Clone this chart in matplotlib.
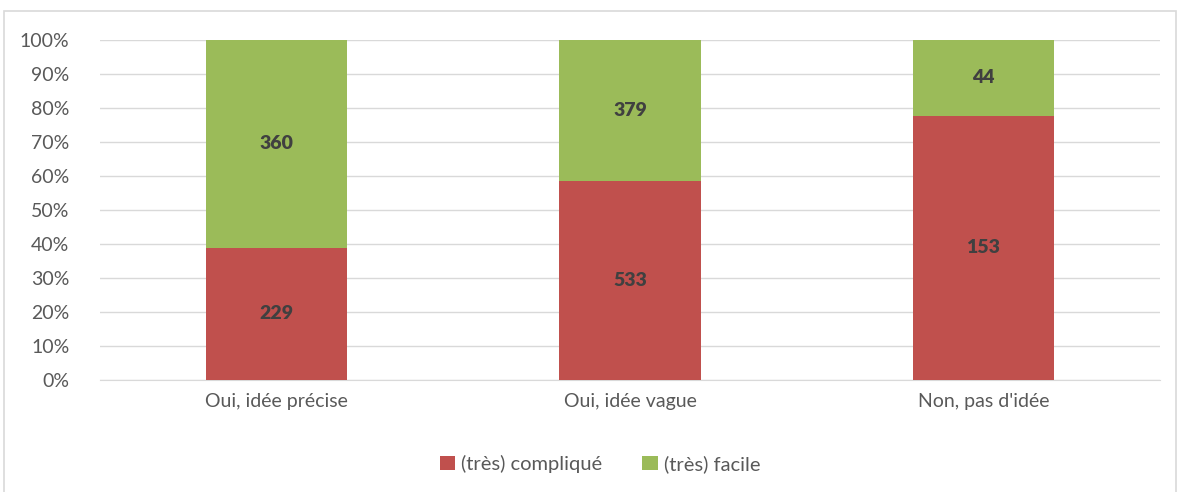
import numpy as np
import matplotlib.pyplot as plt
from matplotlib.patches import Rectangle

categories = ["Oui, idée précise", "Oui, idée vague", "Non, pas d'idée"]
complique = [229, 533, 153]
facile = [360, 379, 44]
series_names = ["(très) compliqué", "(très) facile"]
yticks = [0, 10, 20, 30, 40, 50, 60, 70, 80, 90, 100]

RED = "#C0504D"
GREEN = "#9BBB59"

plt.rcParams['font.family'] = ['Lato', 'DejaVu Sans']

fig = plt.figure(figsize=(11.8, 4.92), dpi=100)
ax = fig.add_axes([100 / 1180, 1 - 380 / 492, 1060 / 1180, 340 / 492])

# chart border
fig.patches.append(Rectangle((4 / 1180, -0.01), 1172 / 1180, 1 - 11 / 492 + 0.01,
                             transform=fig.transFigure, fill=False,
                             edgecolor="#D9D9D9", linewidth=1.2))

c = np.array(complique, dtype=float)
f = np.array(facile, dtype=float)
tot = c + f
pc = c / tot * 100
pf = f / tot * 100
x = np.arange(len(categories))
w = 0.4

ax.bar(x, pc, w, color=RED, label=series_names[0], zorder=3)
ax.bar(x, pf, w, bottom=pc, color=GREEN, label=series_names[1], zorder=3)

for i in range(len(x)):
    ax.text(x[i], pc[i] / 2, str(complique[i]), ha="center", va="center",
            fontsize=14, fontweight="heavy", color="#404040", zorder=4)
    ax.text(x[i], pc[i] + pf[i] / 2, str(facile[i]), ha="center", va="center",
            fontsize=14, fontweight="heavy", color="#404040", zorder=4)

ax.set_xlim(-0.5, 2.5)
ax.set_ylim(0, 100)
ax.set_yticks(yticks)
ax.set_yticklabels(["%d%%" % v for v in yticks])
ax.set_xticks(x)
ax.set_xticklabels(categories)
ax.grid(axis="y", color="#D9D9D9", linewidth=1, zorder=0)
for s in ["top", "right", "left"]:
    ax.spines[s].set_visible(False)
ax.spines["bottom"].set_color("#D9D9D9")
ax.tick_params(axis="x", length=0, labelsize=14, colors="#595959", pad=9)
ax.tick_params(axis="y", length=0, labelsize=14, colors="#595959", pad=22)

fig.legend(loc="center", bbox_to_anchor=(600 / 1180, 1 - 464 / 492), ncol=2,
           frameon=False, fontsize=14.5, labelcolor="#595959", handlelength=0.75,
           handleheight=0.75, handletextpad=0.3, columnspacing=2.0)

plt.savefig("out.png", dpi=100)
